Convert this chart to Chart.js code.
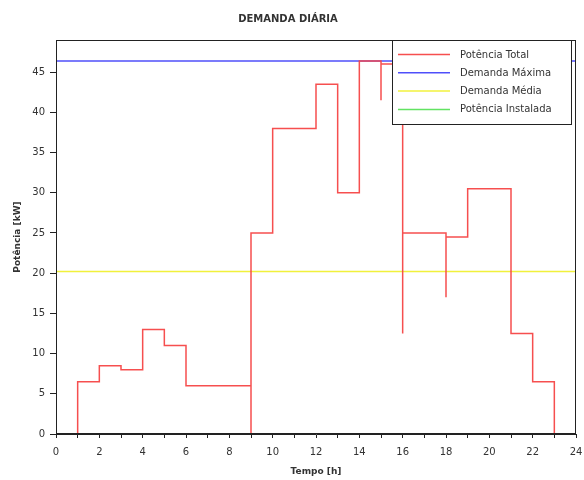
<!DOCTYPE html>
<html>
<head>
<meta charset="utf-8">
<title>Demanda Diária</title>
<script src="https://cdn.jsdelivr.net/npm/chart.js@4"></script>
<style>
    html, body { margin: 0; padding: 0; background: #fff; }
    #wrap { width: 584px; height: 480px; }
</style>
</head>
<body>
<div id="wrap"><canvas id="demandaChart" width="584" height="480"></canvas></div>
<script>
// data (hour where each step starts, kW)
const hours      = [0, 1,   2,   3, 4,  5,  6, 9, 9,  10, 12,   13, 14,   15,   15, 16,   16, 18, 18,   19,   21,   22,  23, 24];
const totalPower = [0, 6.5, 8.5, 8, 13, 11, 6, 0, 25, 38, 43.5, 30, 46.4, 41.5, 46, 12.5, 25, 17, 24.5, 30.5, 12.5, 6.5, 0,  0];
const maxDemand = 46.4;
const avgDemand = 20.2;
const installedPower = [];   // only in the legend, not drawn on the plot

const xRange = [0, 24];
const yRange = [0, 49];
const xStep = 1;
const yStep = 5;

const seriesLabels = ['Potência Total', 'Demanda Máxima', 'Demanda Média', 'Potência Instalada'];
const seriesColors = ['rgba(245, 70, 70, 0.95)', 'rgba(70, 70, 250, 0.95)', 'rgba(240, 240, 50, 0.95)', 'rgba(90, 225, 90, 0.95)'];

Chart.defaults.font.family = '"DejaVu Sans", sans-serif';

const totalPoints = hours.map(function (h, i) { return {x: h, y: totalPower[i]}; });
const flatLine = function (v) { return [{x: xRange[0], y: v}, {x: xRange[1], y: v}]; };

// box round the plot area
const frame = {
    id: 'frame',
    afterDraw: function (chart) {
        const a = chart.chartArea;
        const ctx = chart.ctx;
        ctx.save();
        ctx.strokeStyle = '#222';
        ctx.lineWidth = 1;
        ctx.strokeRect(Math.round(a.left) + 0.5, Math.round(a.top) + 0.5,
            Math.round(a.right - a.left) - 1, Math.round(a.bottom - a.top) - 1);
        ctx.restore();
    }
};

// legend drawn on top of the lines, with a white box
const legendBox = {
    id: 'legendBox',
    afterDraw: function (chart) {
        const a = chart.chartArea;
        const ctx = chart.ctx;
        const w = 179, h = 84;
        const x = Math.round(a.right) - 5 - w;
        const y = Math.round(a.top);
        ctx.save();
        ctx.fillStyle = '#fff';
        ctx.fillRect(x, y, w, h);
        ctx.strokeStyle = '#222';
        ctx.lineWidth = 1;
        ctx.strokeRect(x + 0.5, y + 0.5, w, h);
        ctx.font = '10px "DejaVu Sans"';
        ctx.textBaseline = 'middle';
        chart.data.datasets.forEach(function (ds, i) {
            const yy = y + 14.5 + i * 18.3;
            ctx.strokeStyle = ds.borderColor;
            ctx.lineWidth = 1.5;
            ctx.beginPath();
            ctx.moveTo(x + 6, yy);
            ctx.lineTo(x + 58, yy);
            ctx.stroke();
            ctx.fillStyle = '#333';
            ctx.fillText(ds.label, x + 68, yy + 0.5);
        });
        ctx.restore();
    }
};

const ctx = document.getElementById('demandaChart').getContext('2d');
new Chart(ctx, {
    type: 'line',
    data: {
        datasets: [{
            label: seriesLabels[0],
            data: totalPoints,
            borderColor: seriesColors[0],
            borderWidth: 1.5,
            stepped: 'before',
            pointRadius: 0,
            fill: false
        }, {
            label: seriesLabels[1],
            data: flatLine(maxDemand),
            borderColor: seriesColors[1],
            borderWidth: 1.5,
            pointRadius: 0,
            fill: false
        }, {
            label: seriesLabels[2],
            data: flatLine(avgDemand),
            borderColor: seriesColors[2],
            borderWidth: 1.5,
            pointRadius: 0,
            fill: false
        }, {
            label: seriesLabels[3],
            data: installedPower,
            borderColor: seriesColors[3],
            borderWidth: 1.5,
            pointRadius: 0,
            fill: false
        }]
    },
    options: {
        responsive: false,
        animation: false,
        devicePixelRatio: 1,
        layout: { padding: { left: 0, right: 8, top: 0, bottom: 0 } },
        plugins: {
            legend: { display: false },
            tooltip: { enabled: false },
            title: {
                display: true,
                text: 'DEMANDA DIÁRIA',
                color: '#333',
                font: { size: 10, weight: 'bold' },
                padding: { top: 13, bottom: 15 }
            }
        },
        scales: {
            x: {
                type: 'linear',
                min: xRange[0],
                max: xRange[1],
                afterFit: function (scale) {
                    scale.height = 46;
                    scale.paddingLeft = 0;
                    scale.paddingRight = 0;
                },
                ticks: {
                    stepSize: xStep,
                    autoSkip: false,
                    maxRotation: 0,
                    color: '#333',
                    font: { size: 10 },
                    padding: 8,
                    callback: function (v) { return v % 2 === 0 ? v : ''; }
                },
                grid: { drawOnChartArea: false, tickLength: 4, tickColor: '#222' },
                border: { color: '#222', width: 1 },
                title: {
                    display: true,
                    text: 'Tempo [h]',
                    color: '#333',
                    font: { size: 9, weight: 'bold' },
                    padding: { top: 0, bottom: 3 }
                }
            },
            y: {
                min: yRange[0],
                max: yRange[1],
                afterFit: function (scale) {
                    scale.width = 56;
                    scale.paddingTop = 0;
                    scale.paddingBottom = 0;
                },
                ticks: {
                    stepSize: yStep,
                    includeBounds: false,
                    color: '#333',
                    font: { size: 10 },
                    padding: 5
                },
                grid: { drawOnChartArea: false, tickLength: 6, tickColor: '#222' },
                border: { color: '#222', width: 1 },
                title: {
                    display: true,
                    text: 'Potência [kW]',
                    color: '#333',
                    font: { size: 9, weight: 'bold' },
                    padding: { top: 12, bottom: 0 }
                }
            }
        }
    },
    plugins: [frame, legendBox]
});
</script>
</body>
</html>
